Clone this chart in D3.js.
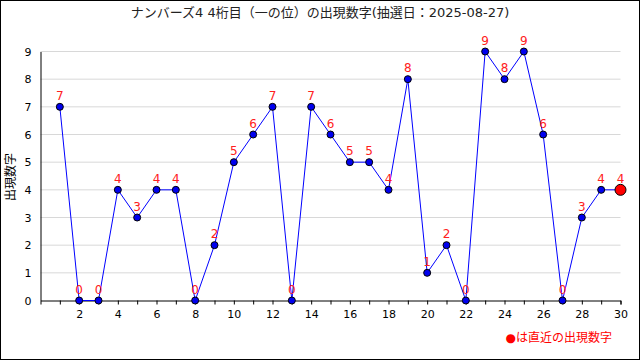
<!DOCTYPE html>
<html><head><meta charset="utf-8">
<script src="https://cdn.jsdelivr.net/npm/d3@7"></script>
<style>body{margin:0;background:#fff}svg{display:block}</style>
</head><body>
<script>
const draws = d3.range(1, 31);
const digits = [7,0,0,4,3,4,4,0,2,5,6,7,0,7,6,5,5,4,8,1,2,0,9,8,9,6,0,3,4,4];
const yTicks = [0,1,2,3,4,5,6,7,8,9];
const xTickLabels = [2,4,6,8,10,12,14,16,18,20,22,24,26,28,30];
const title = "ナンバーズ4 4桁目（一の位）の出現数字(抽選日：2025-08-27)";
const yTitle = "出現数字";
const legendText = "●は直近の出現数字";

const W = 640, H = 360;
const font = "'DejaVu Sans', 'Noto Sans CJK JP', sans-serif";
const svg = d3.select("body").append("svg").attr("width", W).attr("height", H);
svg.append("rect").attr("x",0.5).attr("y",0.5).attr("width",W-1).attr("height",H-1)
  .attr("fill","#fff").attr("stroke","#000");

const x = d3.scaleLinear().domain([0,30]).range([40.5,620.5]);
const y = d3.scaleLinear().domain([0,9]).range([300.5,51.5]);

// grid
svg.append("g").selectAll("line").data(yTicks.filter(d=>d>0)).join("line")
  .attr("x1",x(0)).attr("x2",x(30)).attr("y1",d=>y(d)).attr("y2",d=>y(d))
  .attr("stroke","#d8d8d8").attr("stroke-width",1);

// y axis
const ya = svg.append("g").attr("transform",`translate(${x(0)},0)`)
  .call(d3.axisLeft(y).tickValues(yTicks).tickSize(0).tickPadding(9).tickFormat(d3.format("d")));
ya.select(".domain").attr("stroke","#000");
ya.selectAll("text").attr("font-family",font).attr("font-size",11).attr("fill","#000");

// x axis
const xa = svg.append("g").attr("transform",`translate(0,${y(0)})`)
  .call(d3.axisBottom(x).tickValues(draws).tickSize(4).tickPadding(6)
    .tickFormat(d => xTickLabels.includes(d) ? d : ""));
xa.select(".domain").attr("stroke","#000");
xa.selectAll("line").attr("stroke","#000");
xa.selectAll("text").attr("font-family",font).attr("font-size",11).attr("fill","#000");

// line
svg.append("path").datum(digits)
  .attr("d", d3.line().x((d,i)=>x(draws[i])).y(d=>y(d)))
  .attr("fill","none").attr("stroke","#0000ff").attr("stroke-width",1);

// points
svg.append("g").selectAll("circle").data(digits).join("circle")
  .attr("cx",(d,i)=>x(draws[i])).attr("cy",d=>y(d))
  .attr("r",(d,i)=>i===digits.length-1?5.5:3.5)
  .attr("fill",(d,i)=>i===digits.length-1?"#ff0000":"#0000ee")
  .attr("stroke","#000").attr("stroke-width",1);

// labels
svg.append("g").selectAll("text").data(digits).join("text")
  .attr("x",(d,i)=>x(draws[i])).attr("y",d=>y(d)-7)
  .attr("text-anchor","middle").attr("font-family",font).attr("font-size",12)
  .attr("fill","#ff2020").text(d=>d);

// title
svg.append("text").attr("x",320).attr("y",17).attr("text-anchor","middle")
  .attr("font-family",font).attr("font-size",13).attr("fill","#222").text(title);

// y title
svg.append("text").attr("transform","translate(15,177) rotate(-90)")
  .attr("text-anchor","middle").attr("font-family",font).attr("font-size",12)
  .attr("fill","#000").text(yTitle);

// legend
svg.append("text").attr("x",612).attr("y",342).attr("text-anchor","end")
  .attr("font-family",font).attr("font-size",12).attr("fill","#ff0000").text(legendText);
</script>
</body></html>
